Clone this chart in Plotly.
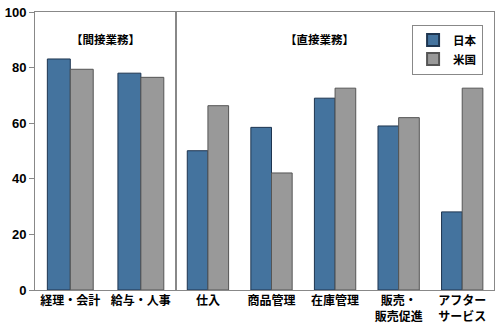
import plotly.graph_objects as go

indirect_cats = ["経理・会計", "給与・人事"]
direct_cats = ["仕入", "商品管理", "在庫管理", "販売・<br>販売促進", "アフター<br>サービス"]
japan_indirect = [83.1, 78.0]
us_indirect = [79.4, 76.5]
japan_direct = [50.1, 58.5, 69.0, 59.0, 28.1]
us_direct = [66.3, 42.1, 72.6, 62.0, 72.6]
series_names = ["日本", "米国"]
y_ticks = [0, 20, 40, 60, 80, 100]
group_titles = ["【間接業務】", "【直接業務】"]

BLUE = "#44739e"
GRAY = "#999999"
BLUE_LINE = "#1e3550"
GRAY_LINE = "#555555"
FRAME = "#888888"
CJK = "Noto Sans CJK JP"

fig = go.Figure()
fig.add_bar(x=indirect_cats, y=japan_indirect, name=series_names[0], xaxis="x", yaxis="y",
            marker=dict(color=BLUE, line=dict(color=BLUE_LINE, width=1)), legendgroup="jp")
fig.add_bar(x=indirect_cats, y=us_indirect, name=series_names[1], xaxis="x", yaxis="y",
            marker=dict(color=GRAY, line=dict(color=GRAY_LINE, width=1)), legendgroup="us")
fig.add_bar(x=direct_cats, y=japan_direct, name=series_names[0], xaxis="x2", yaxis="y2",
            marker=dict(color=BLUE, line=dict(color=BLUE_LINE, width=1)), legendgroup="jp", showlegend=False)
fig.add_bar(x=direct_cats, y=us_direct, name=series_names[1], xaxis="x2", yaxis="y2",
            marker=dict(color=GRAY, line=dict(color=GRAY_LINE, width=1)), legendgroup="us", showlegend=False)

split = (173 - 30) / 465

axis_common = dict(showline=True, linecolor=FRAME, linewidth=1, mirror=True, showgrid=False, zeroline=False)

fig.update_layout(
    width=500, height=329,
    margin=dict(l=30, r=5, t=10, b=37),
    paper_bgcolor="white", plot_bgcolor="white",
    barmode="group", bargap=0.35, bargroupgap=0,
    font=dict(family=CJK, size=11, color="black"),
    showlegend=True,
    legend=dict(x=(412 - 30) / 465, y=(292 - 22.7) / 282, xanchor="left", yanchor="top",
                bordercolor=FRAME, borderwidth=1, bgcolor="white",
                font=dict(family=CJK, size=11.5, weight="bold"),
                itemsizing="constant", tracegroupgap=0),
    xaxis=dict(domain=[0, split], anchor="y", ticks="",
               tickfont=dict(family=CJK, size=12, weight="bold"), **axis_common),
    xaxis2=dict(domain=[split, 1], anchor="y2", ticks="",
                tickfont=dict(family=CJK, size=12, weight="bold"), **axis_common),
    yaxis=dict(range=[0, 100], tickvals=y_ticks, ticks="outside", ticklen=5, tickcolor=FRAME,
               tickfont=dict(family="Liberation Sans", size=13, weight="bold"),
               anchor="x", **axis_common),
    yaxis2=dict(range=[0, 100], matches="y", showticklabels=False, anchor="x2", **axis_common),
)

fig.add_annotation(text=group_titles[0], xref="x domain", yref="paper", x=0.5, y=(292 - 27) / 282,
                   showarrow=False, font=dict(family=CJK, size=11.5, weight="bold"))
fig.add_annotation(text=group_titles[1], xref="x2 domain", yref="paper", x=(318 - 173) / 322, y=(292 - 27) / 282,
                   showarrow=False, font=dict(family=CJK, size=11.5, weight="bold"))

fig.write_html("out.html")
